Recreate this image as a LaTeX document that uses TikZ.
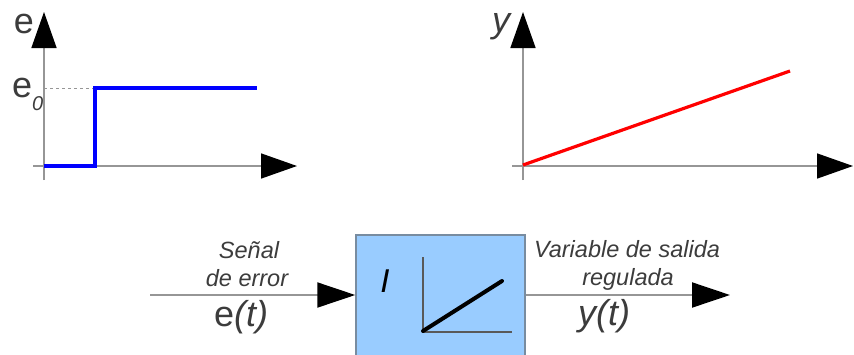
\documentclass[tikz,border=0pt]{standalone}
\usepackage{fontspec}
\setmainfont{Liberation Sans}
\usetikzlibrary{arrows.meta}
\definecolor{axisgray}{RGB}{150,150,150}
\definecolor{txtgray}{RGB}{60,60,60}
\definecolor{blockblue}{RGB}{153,204,255}
\definecolor{blockedge}{RGB}{120,140,160}
\tikzset{
  axis/.style={draw=axisgray,line width=1.5pt,-{Triangle[length=36pt,width=25pt,black]}},
  sigline/.style={draw=axisgray,line width=2pt,-{Triangle[length=38pt,width=25pt,black]}},
  bigtxt/.style={inner sep=0pt,text=txtgray,font=\fontsize{36}{40}\selectfont},
  smalltxt/.style={inner sep=0pt,text=txtgray,font=\fontsize{23.5}{26}\selectfont\itshape},
}
\begin{document}
\begin{tikzpicture}[x=1pt,y=-1pt]
\clip (0,0) rectangle (854,354);
\fill[white] (0,0) rectangle (854,354);
% left graph
\coordinate (ea0) at (44,180);
\coordinate (ea1) at (44,12);
\coordinate (eh0) at (33,166);
\coordinate (eh1) at (297,166);
\draw[axis] (ea0) -- (ea1);
\draw[axis] (eh0) -- (eh1);
\coordinate (s0) at (44,166);
\coordinate (s1) at (95,166);
\coordinate (s2) at (95,88);
\coordinate (s3) at (257,88);
\draw[axisgray,line width=0.8pt,dashed] (44,88) -- (s2);
\draw[blue,line width=3.2pt] (s0) -- (s1) -- (s2) -- (s3);
\node[bigtxt,anchor=base] (elab) at (24,33) {e};
\node[bigtxt,anchor=base west] (e0lab) at (12,97) {e\raisebox{-13pt}{\fontsize{20}{20}\selectfont\itshape 0}};
% right graph
\coordinate (ya0) at (523,180);
\coordinate (ya1) at (523,12);
\coordinate (yh0) at (512,166);
\coordinate (yh1) at (853,166);
\draw[axis] (ya0) -- (ya1);
\draw[axis] (yh0) -- (yh1);
\coordinate (r0) at (523,165);
\coordinate (r1) at (790,71);
\draw[red,line width=3.2pt] (r0) -- (r1);
\node[bigtxt,anchor=base,font=\fontsize{36}{40}\selectfont\itshape] (ylab) at (501,32) {y};
% block
\node[draw=blockedge,line width=1.5pt,fill=blockblue,minimum width=169pt,minimum height=124pt,inner sep=0pt] (blk) at (440.5,297) {};
\node[bigtxt,anchor=base,font=\fontsize{33}{36}\selectfont\itshape,text=black] (ilab) at (385,292) {I};
\coordinate (m0) at (423,257);
\coordinate (m1) at (423,332);
\coordinate (m2) at (512,332);
\draw[black!65,line width=1.2pt] (m0) -- (m1) -- (m2);
\coordinate (k0) at (423,331);
\coordinate (k1) at (502,281);
\draw[black,line width=4pt,line cap=round] (k0) -- (k1);
% signals
\coordinate (in) at (150,295);
\coordinate (out) at (730,295);
\draw[sigline] (in) -- (in -| blk.west);
\draw[sigline] (blk.east |- out) -- (out);
\node[smalltxt,anchor=base] (sen) at (249,258) {Señal};
\node[smalltxt,anchor=base] (der) at (247,286) {de error};
\node[bigtxt,anchor=base] (et) at (241,326) {e\textit{(t)}};
\node[smalltxt,anchor=base] (var) at (627,257) {Variable de salida};
\node[smalltxt,anchor=base] (reg) at (628,285) {regulada};
\node[bigtxt,anchor=base,font=\fontsize{36}{40}\selectfont\itshape] (yt) at (604,325) {y(t)};
\end{tikzpicture}
\end{document}
